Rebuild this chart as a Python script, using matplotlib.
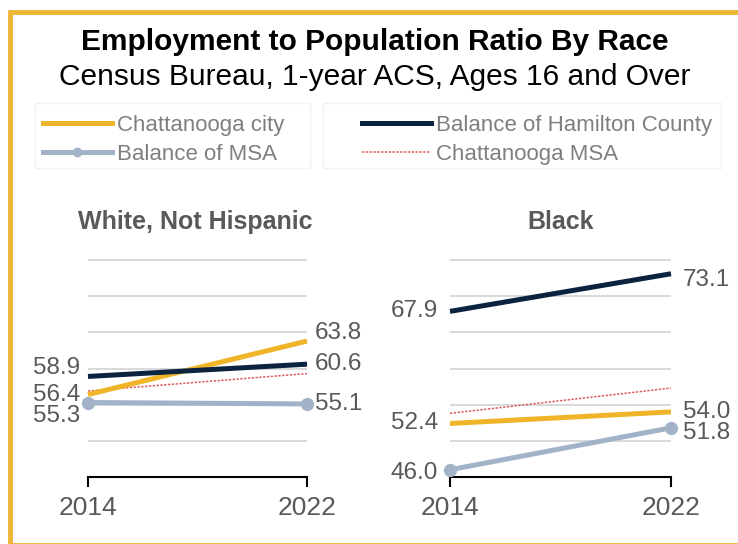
import matplotlib.pyplot as plt
from matplotlib.patches import Rectangle
from matplotlib.lines import Line2D

plt.rcParams['font.family'] = ['Liberation Sans', 'DejaVu Sans']

years = [2014, 2022]
panel_titles = ["White, Not Hispanic", "Black"]
series_names = ["Chattanooga city", "Balance of Hamilton County",
                "Balance of MSA", "Chattanooga MSA"]

# employment / population ratio, 2014 and 2022
white_city = [56.4, 63.8]
white_hamilton = [58.9, 60.6]
white_bal_msa = [55.3, 55.1]
white_msa = [56.9, 59.3]

black_city = [52.4, 54.0]
black_hamilton = [67.9, 73.1]
black_bal_msa = [46.0, 51.8]
black_msa = [53.8, 57.3]

panel_data = [
    [white_city, white_hamilton, white_bal_msa, white_msa],
    [black_city, black_hamilton, black_bal_msa, black_msa],
]

styles = {
    "Chattanooga city": dict(color="#F0B429", lw=3.6, ls="-"),
    "Balance of Hamilton County": dict(color="#0C2340", lw=3.6, ls="-"),
    "Balance of MSA": dict(color="#A2B2C8", lw=3.6, ls="-", marker="o", ms=8.5),
    "Chattanooga MSA": dict(color="#E05A5A", lw=1.1, ls=(0, (1.5, 1))),
}
labelled = ["Chattanooga city", "Balance of Hamilton County", "Balance of MSA"]

# vertical nudges (points) so the end labels don't collide
nudges = [
    {("Balance of Hamilton County", 0): 6, ("Balance of MSA", 0): -9.4,
     ("Chattanooga city", 1): 5.8},
    {("Balance of MSA", 0): -2, ("Balance of Hamilton County", 1): -4.3,
     ("Balance of MSA", 1): -3.6},
]
label_pad = [5.8, 8.6]

W, H = 738, 544
fig = plt.figure(figsize=(W / 100, H / 100), dpi=100)

def fx(px):
    return px / W

def fy(py):
    return 1 - py / H

# gold frame, open on the right
fig.patches.append(Rectangle((fx(10), fy(545)), 1.2, (545 - 12) / H,
                             transform=fig.transFigure, fill=False,
                             edgecolor="#EDB534", lw=3.5, clip_on=False))

fig.text(fx(375), fy(42), "Employment to Population Ratio By Race",
         ha="center", va="center", fontsize=21.5, weight="bold", color="black")
fig.text(fx(375), fy(77), "Census Bureau, 1-year ACS, Ages 16 and Over",
         ha="center", va="center", fontsize=21.5, color="black")

ylo, yhi = 45, 76
px_per_unit = 7.233
ax_h = (yhi - ylo) * px_per_unit
panel_x = [(88, 307), (450, 671)]
title_x = [195, 561]

for i, (x0, x1) in enumerate(panel_x):
    ax = fig.add_axes([fx(x0), fy(477), fx(x1 - x0), ax_h / H])
    ax.set_xlim(years[0], years[-1])
    ax.set_ylim(ylo, yhi)
    ax.set_yticks([50, 55, 60, 65, 70, 75])
    ax.yaxis.grid(True, color="#D9D9D9", lw=1.4)
    ax.set_axisbelow(True)
    ax.tick_params(axis="y", length=0, labelleft=False)
    ax.set_xticks(years)
    ax.tick_params(axis="x", direction="out", length=7, width=1.5,
                   color="black", labelsize=19, labelcolor="#595959", pad=7)
    for side in ["top", "left", "right"]:
        ax.spines[side].set_visible(False)
    ax.spines["bottom"].set_color("black")
    ax.spines["bottom"].set_linewidth(1.5)

    for name, vals in zip(series_names, panel_data[i]):
        z = 2 if name == "Chattanooga MSA" else 3
        ax.plot(years, vals, clip_on=False, zorder=z, solid_capstyle="butt",
                **styles[name])
        if name not in labelled:
            continue
        for j, v in enumerate(vals):
            dx = -label_pad[i] if j == 0 else label_pad[i]
            dy = nudges[i].get((name, j), 0)
            ax.annotate(f"{v:.1f}", (years[j], v), xytext=(dx, dy),
                        textcoords="offset points", va="center",
                        ha="right" if j == 0 else "left",
                        fontsize=17.5, color="#595959", annotation_clip=False)

    fig.text(fx(title_x[i]), fy(222), panel_titles[i], ha="center",
             va="center", fontsize=18, weight="bold", color="#595959")

# legend, split in two faint boxes
handles = {n: Line2D([], [], **styles[n]) for n in series_names}
handles["Balance of MSA"] = Line2D([], [], color="#A2B2C8", lw=3.6,
                                   marker="o", ms=6)
for (bx0, bx1), names, anchor_x in [((35, 310), ["Chattanooga city", "Balance of MSA"], 43),
                                   ((323, 721), ["Balance of Hamilton County", "Chattanooga MSA"], 362)]:
    fig.patches.append(Rectangle((fx(bx0), fy(168)), fx(bx1 - bx0), 65 / H,
                                 transform=fig.transFigure, fill=False,
                                 edgecolor="#F3F3F3", lw=1))
    fig.legend([handles[n] for n in names], names, loc="upper left",
               bbox_to_anchor=(fx(anchor_x), fy(115)), frameon=False,
               fontsize=16, handlelength=3.1, handletextpad=0.22,
               labelspacing=0.35, borderpad=0, borderaxespad=0,
               labelcolor="#7F7F7F")

fig.savefig("out.png", dpi=100)
